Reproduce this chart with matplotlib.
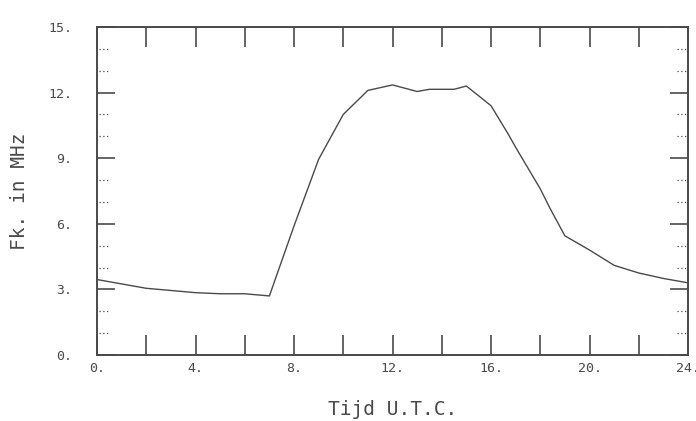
import matplotlib.pyplot as plt
from matplotlib.ticker import MultipleLocator, FuncFormatter
import matplotlib.transforms as mtransforms

# Data (uren U.T.C. en kritische frequentie)
uren = [0, 1, 2, 3, 4, 5, 6, 6.5, 7, 8, 9, 10, 11, 12, 13, 13.5, 14.5, 15,
        16, 16.7, 17, 18, 18.4, 19, 20, 21, 22, 23, 24]
fk = [3.45, 3.25, 3.05, 2.95, 2.85, 2.8, 2.8, 2.75, 2.7, 5.9, 8.95, 11.0, 12.1,
      12.35, 12.05, 12.15, 12.15, 12.3, 11.4, 10.1, 9.5, 7.6, 6.7, 5.45, 4.8,
      4.1, 3.75, 3.5, 3.3]

x_major = [0, 4, 8, 12, 16, 20, 24]
y_major = [0, 3, 6, 9, 12, 15]

grijs = '#4a4a4a'
plt.rcParams['font.family'] = 'DejaVu Sans Mono'

fig = plt.figure(figsize=(6.96, 4.21), dpi=100)
ax = fig.add_axes([0.1394, 0.1568, 0.8491, 0.7791])

ax.plot(uren, fk, color=grijs, lw=1.0)

ax.set_xlim(0, 24)
ax.set_ylim(0, 15)

ax.xaxis.set_major_locator(MultipleLocator(2))
ax.yaxis.set_major_locator(MultipleLocator(3))
ax.xaxis.set_major_formatter(FuncFormatter(lambda v, p: f'{v:g}.' if v in x_major else ''))
ax.yaxis.set_major_formatter(FuncFormatter(lambda v, p: f'{v:g}.' if v in y_major else ''))

ax.tick_params(axis='x', direction='in', length=14.5, width=1.2, color=grijs,
               top=True, bottom=True, labelsize=9.5, labelcolor=grijs, pad=5)
ax.tick_params(axis='y', direction='in', length=13, width=1.2, color=grijs,
               left=True, right=True, labelsize=9.5, labelcolor=grijs, pad=18)
# kleine stippel-streepjes op de y-as
trans_l = mtransforms.blended_transform_factory(ax.transAxes, ax.transData)
for v in range(1, 15):
    if v % 3:
        ax.plot([0.003, 0.018], [v, v], transform=trans_l, color=grijs,
                lw=0.9, ls=(0, (1, 2)), clip_on=False)
        ax.plot([0.982, 0.997], [v, v], transform=trans_l, color=grijs,
                lw=0.9, ls=(0, (1, 2)), clip_on=False)

for s in ax.spines.values():
    s.set_color(grijs)
    s.set_linewidth(1.4)

ax.set_xlabel('Tijd U.T.C.', fontsize=14, color=grijs, labelpad=18)
ax.set_ylabel('Fk. in MHz', fontsize=14, color=grijs, labelpad=14)

fig.savefig('out.png', dpi=100)
